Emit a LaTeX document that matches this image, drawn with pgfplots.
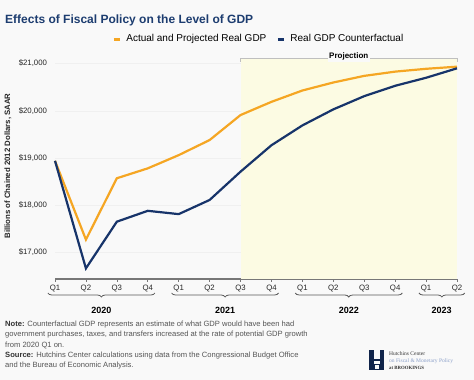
\documentclass[border=0pt]{standalone}
\usepackage{fontspec}
\setmainfont{Liberation Sans}
\newfontfamily\seriffont{Liberation Serif}
\usepackage{pgfplots}
\pgfplotsset{compat=1.18}
\usetikzlibrary{decorations.pathreplacing}
\definecolor{gdporange}{HTML}{F5A623}
\definecolor{gdpnavy}{HTML}{17346A}
\definecolor{titleblue}{HTML}{1D3D70}
\definecolor{projfill}{HTML}{FCFBE3}
\definecolor{bgcol}{HTML}{F9F9F9}
\definecolor{txtgray}{HTML}{555555}
\definecolor{axgray}{HTML}{777777}
\definecolor{logoblue}{HTML}{8A9FC9}
\tikzset{yrbrace/.style={decorate, decoration={brace, mirror, amplitude=4pt}, black!65, line width=0.8pt},
  yrlabel/.style={font=\bfseries\fontsize{9}{10}\selectfont, inner sep=0}}
\begin{document}
\begin{tikzpicture}
\fill[bgcol] (0pt,0pt) rectangle (474pt,380pt);
\useasboundingbox (0pt,0pt) rectangle (474pt,380pt);
\node[anchor=west, font=\bfseries\fontsize{12}{14}\selectfont, text=titleblue, inner sep=0] at (5pt,360pt) {Effects of Fiscal Policy on the Level of GDP};
\node[rotate=90, font=\bfseries\fontsize{7.8}{9}\selectfont, text=black!85, inner sep=0] at (8pt,214pt) {Billions of Chained 2012 Dollars, SAAR};
\begin{axis}[
  at={(55pt,101pt)}, anchor=south west,
  scale only axis, width=402pt, height=220.1pt,
  xmin=0, xmax=13, ymin=16435, ymax=21100,
  clip=false,
  axis x line*=bottom, axis y line*=left,
  y axis line style={draw=none},
  x axis line style={draw=axgray, line width=1.6pt},
  xtick={0,...,13},
  xticklabels={Q1,Q2,Q3,Q4,Q1,Q2,Q3,Q4,Q1,Q2,Q3,Q4,Q1,Q2},
  tick align=outside,
  major tick length=3pt,
  xtick style={draw=axgray, line width=0.6pt},
  ytick style={draw=none},
  ytick={17000,18000,19000,20000,21000},
  scaled y ticks=false,
  yticklabel={\$\pgfmathprintnumber{\tick}},
  /pgf/number format/1000 sep={,},
  /pgf/number format/assume math mode=true,
  ymajorgrids, grid style={draw=black!6, line width=0.5pt},
  ticklabel style={font=\fontsize{7.8}{9}\selectfont, text=black!85},
  yticklabel style={xshift=-1.5pt},
  legend style={draw=none, fill=none, at={(0.507,1.09)}, anchor=center,
    legend columns=2, font=\fontsize{10}{11}\selectfont,
    /tikz/every odd column/.append style={column sep=3pt},
    /tikz/every even column/.append style={column sep=8pt}},
  legend image code/.code={\draw[line width=3pt] (0pt,0pt) -- (6pt,0pt);},
]
\fill[projfill] (axis cs:6,16435) rectangle (axis cs:13,21100);
\addplot[gdporange, line width=2.2pt] coordinates {
 (0,18940) (1,17270) (2,18570) (3,18780) (4,19060) (5,19380) (6,19910)
 (7,20190) (8,20430) (9,20600) (10,20740) (11,20830) (12,20890) (13,20935)};
\addlegendentry{Actual and Projected Real GDP}
\addplot[gdpnavy, line width=2.2pt] coordinates {
 (0,18940) (1,16660) (2,17650) (3,17880) (4,17810) (5,18110) (6,18710)
 (7,19270) (8,19690) (9,20030) (10,20310) (11,20530) (12,20700) (13,20900)};
\addlegendentry{Real GDP Counterfactual}
\draw[black!25, line width=0.6pt] ([yshift=-3pt]axis cs:6,21100) -- ([yshift=1pt]axis cs:6,21100) -- ([yshift=1pt]axis cs:13,21100) -- ([yshift=-3pt]axis cs:13,21100);
\node[fill=bgcol, inner sep=1.5pt, font=\bfseries\fontsize{8}{9}\selectfont] at ([yshift=2.5pt]axis cs:9.5,21100) {Projection};
\draw[yrbrace] ([yshift=-14pt]axis cs:-0.23,16435) -- ([yshift=-14pt]axis cs:3.23,16435);
\draw[yrbrace] ([yshift=-14pt]axis cs:3.77,16435) -- ([yshift=-14pt]axis cs:7.23,16435);
\draw[yrbrace] ([yshift=-14pt]axis cs:7.77,16435) -- ([yshift=-14pt]axis cs:11.23,16435);
\draw[yrbrace] ([yshift=-14pt]axis cs:11.77,16435) -- ([yshift=-14pt]axis cs:13.25,16435);
\node[yrlabel] at ([yshift=-31pt]axis cs:1.5,16435) {2020};
\node[yrlabel] at ([yshift=-31pt]axis cs:5.5,16435) {2021};
\node[yrlabel] at ([yshift=-31pt]axis cs:9.5,16435) {2022};
\node[yrlabel] at ([yshift=-31pt]axis cs:12.5,16435) {2023};
\end{axis}
\node[anchor=north west, inner sep=0, align=left, text=txtgray, font=\fontsize{7.6}{10.2}\selectfont] at (5pt,59pt) {\textbf{\color{black!80}Note:} Counterfactual GDP represents an estimate of what GDP would have been had\\government purchases, taxes, and transfers increased at the rate of potential GDP growth\\from 2020 Q1 on.\\\textbf{\color{black!80}Source:} Hutchins Center calculations using data from the Congressional Budget Office\\and the Bureau of Economic Analysis.};
\fill[gdpnavy!70!black] (369pt,10pt) rectangle (373.5pt,30pt);
\fill[gdpnavy!70!black] (379.5pt,10pt) rectangle (384pt,30pt);
\fill[gdpnavy!70!black] (373.5pt,19pt) rectangle (379.5pt,21pt);
\draw[gdpnavy!70!black, line width=0.4pt] (374.2pt,11pt) rectangle (378.8pt,16pt);
\node[anchor=west, inner sep=0, font=\seriffont\fontsize{5.5}{6}\selectfont, text=black!80] at (389pt,26pt) {Hutchins Center};
\node[anchor=west, inner sep=0, font=\seriffont\fontsize{5.5}{6}\selectfont, text=logoblue] at (389pt,19pt) {on Fiscal \& Monetary Policy};
\node[anchor=west, inner sep=0, font=\seriffont\bfseries\fontsize{4.8}{6}\selectfont, text=black!80] at (389pt,12pt) {at BROOKINGS};
\end{tikzpicture}
\end{document}
